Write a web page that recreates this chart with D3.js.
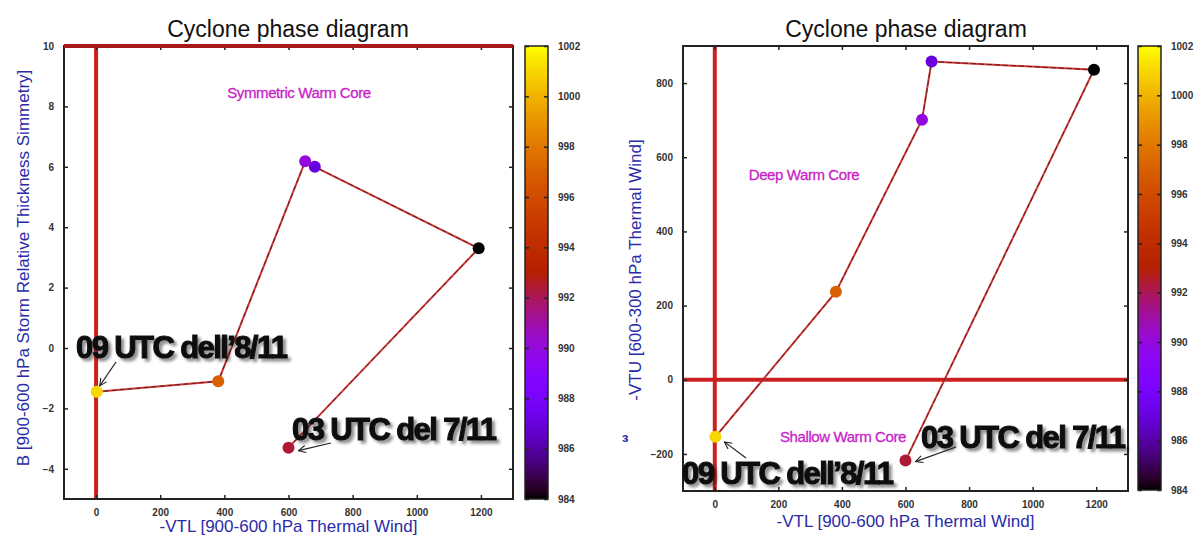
<!DOCTYPE html>
<html>
<head>
<meta charset="utf-8">
<script src="https://cdn.jsdelivr.net/npm/d3@7"></script>
<style>
  html, body { margin: 0; padding: 0; background: #fff; }
  svg { display: block; font-family: "Liberation Sans", Arial, Helvetica, sans-serif; }
</style>
</head>
<body>
<svg id="chart" width="1201" height="540"></svg>
<script>
// Track of the cyclone, in time order (first: 03 UTC 7/11, last: 09 UTC 8/11)
const vtl  = [600, 1193, 682, 652, 381, 2];          // -VTL [900-600 hPa thermal wind]
const bPar = [-3.3, 3.3, 6.0, 6.18, -1.1, -1.45];     // B [900-600 hPa thickness symmetry]
const vtu  = [-218, 836, 858, 701, 237, -154];        // -VTU [600-300 hPa thermal wind]
const mslp = [992.4, 984, 987, 990, 997, 1001];       // minimum sea-level pressure (hPa)

const xTicks  = [0, 200, 400, 600, 800, 1000, 1200];
const bTicks  = [-4, -2, 0, 2, 4, 6, 8, 10];
const vtuTicks = [-200, 0, 200, 400, 600, 800];
const cbTicks = [984, 986, 988, 990, 992, 994, 996, 998, 1000, 1002];

const svg = d3.select("#chart");
const fmt = d3.format("d");

// gnuplot default palette (rgbformulae 7,5,15)
function gnuplotPalette(t) {
  const r = Math.sqrt(t), g = t * t * t, b = Math.max(0, Math.sin(2 * Math.PI * t));
  return d3.rgb(r * 255, g * 255, b * 255).formatHex();
}
const pColor = d3.scaleSequential(gnuplotPalette).domain([984, 1002]);

const defs = svg.append("defs");
const grad = defs.append("linearGradient").attr("id", "cbgrad")
  .attr("x1", 0).attr("y1", 1).attr("x2", 0).attr("y2", 0);
d3.range(0, 1.0001, 0.02).forEach(t => {
  grad.append("stop").attr("offset", t).attr("stop-color", gnuplotPalette(t));
});
const shadow = defs.append("filter").attr("id", "shadow")
  .attr("x", "-10%").attr("y", "-30%").attr("width", "130%").attr("height", "170%");
shadow.append("feGaussianBlur").attr("in", "SourceAlpha").attr("stdDeviation", 1.4).attr("result", "blur");
shadow.append("feOffset").attr("in", "blur").attr("dx", 2.5).attr("dy", 2.5).attr("result", "off");
shadow.append("feComponentTransfer").attr("in", "off").attr("result", "soft")
  .append("feFuncA").attr("type", "linear").attr("slope", 0.45);
const merge = shadow.append("feMerge");
merge.append("feMergeNode").attr("in", "soft");
merge.append("feMergeNode").attr("in", "SourceGraphic");

const arrowHead = defs.append("marker").attr("id", "arrow")
  .attr("viewBox", "0 0 10 10").attr("refX", 9).attr("refY", 5)
  .attr("markerWidth", 9).attr("markerHeight", 9).attr("orient", "auto")
  .attr("markerUnits", "userSpaceOnUse");
arrowHead.append("path").attr("d", "M1,1 L9,5 L1,9").attr("fill", "none")
  .attr("stroke", "#222").attr("stroke-width", 1.2);

function panel(cfg) {
  const g = svg.append("g");
  const x = d3.scaleLinear().domain([-100, 1300]).range([cfg.left, cfg.right]);
  const y = d3.scaleLinear().domain(cfg.yDomain).range([cfg.bottom, cfg.top]);

  // title
  g.append("text").attr("x", cfg.titleX).attr("y", 37).attr("text-anchor", "middle")
    .attr("font-size", 23).attr("fill", "#111").text("Cyclone phase diagram");

  // reference lines
  cfg.refX.forEach(v => g.append("line")
    .attr("x1", x(v)).attr("x2", x(v)).attr("y1", cfg.top).attr("y2", cfg.bottom)
    .attr("stroke", "#cc2020").attr("stroke-width", 4));
  cfg.refY.forEach(v => g.append("line")
    .attr("x1", cfg.left).attr("x2", cfg.right).attr("y1", y(v)).attr("y2", y(v))
    .attr("stroke", "#cc2020").attr("stroke-width", 4));

  // axes with inward ticks, mirrored on top/right
  const tickStyle = sel => {
    sel.select(".domain").remove();
    sel.selectAll(".tick line").attr("stroke", "#222").attr("stroke-width", 1.5);
    sel.selectAll(".tick text").attr("font-size", 10).attr("font-weight", "bold").attr("fill", "#333");
  };
  g.append("g").attr("transform", `translate(0,${cfg.bottom})`)
    .call(d3.axisBottom(x).tickValues(xTicks).tickFormat(fmt).tickSizeInner(-4).tickPadding(10).tickSizeOuter(0))
    .call(tickStyle);
  g.append("g").attr("transform", `translate(0,${cfg.top})`)
    .call(d3.axisTop(x).tickValues(xTicks).tickSizeInner(-4).tickFormat("").tickSizeOuter(0))
    .call(tickStyle);
  g.append("g").attr("transform", `translate(${cfg.left},0)`)
    .call(d3.axisLeft(y).tickValues(cfg.yTicks).tickFormat(fmt).tickSizeInner(-4).tickPadding(10).tickSizeOuter(0))
    .call(tickStyle);
  g.append("g").attr("transform", `translate(${cfg.right},0)`)
    .call(d3.axisRight(y).tickValues(cfg.yTicks).tickSizeInner(-4).tickFormat("").tickSizeOuter(0))
    .call(tickStyle);

  // frame
  g.append("rect").attr("x", cfg.left).attr("y", cfg.top)
    .attr("width", cfg.right - cfg.left).attr("height", cfg.bottom - cfg.top)
    .attr("fill", "none").attr("stroke", "#222").attr("stroke-width", 2);
  if (cfg.topRed) g.append("line").attr("x1", cfg.left).attr("x2", cfg.right)
    .attr("y1", cfg.top).attr("y2", cfg.top).attr("stroke", "#a81818").attr("stroke-width", 4);

  // axis titles
  g.append("text").attr("x", (cfg.left + cfg.right) / 2).attr("y", cfg.xLabelY)
    .attr("text-anchor", "middle").attr("font-size", 17).attr("fill", "#2a2aa8")
    .text("-VTL [900-600 hPa Thermal Wind]");
  g.append("text").attr("transform", `translate(${cfg.yLabelX},${cfg.yLabelCY}) rotate(-90)`)
    .attr("text-anchor", "middle").attr("font-size", 17).attr("fill", "#2a2aa8")
    .text(cfg.yLabel);

  // region labels
  cfg.regions.forEach(r => g.append("text").attr("x", r.x).attr("y", r.y)
    .attr("text-anchor", "middle").attr("font-size", 15).attr("fill", "#c81ec8")
    .attr("stroke", "#c81ec8").attr("stroke-width", 0.3)
    .attr("letter-spacing", -0.4).text(r.text));

  // track
  const pts = vtl.map((v, i) => [x(v), y(cfg.yValues[i])]);
  const line = d3.line();
  g.append("path").attr("d", line(pts)).attr("fill", "none")
    .attr("stroke", "#d03838").attr("stroke-width", 2);
  g.append("path").attr("d", line(pts)).attr("fill", "none")
    .attr("stroke", "#3a1414").attr("stroke-width", 1).attr("stroke-dasharray", "5,3").attr("opacity", 0.75);
  g.selectAll("circle.pt").data(pts).join("circle").attr("class", "pt")
    .attr("cx", d => d[0]).attr("cy", d => d[1]).attr("r", 6)
    .attr("fill", (d, i) => pColor(mslp[i]));

  // annotations
  cfg.notes.forEach(n => {
    const p = pts[n.idx];
    g.append("text").attr("x", n.tx).attr("y", n.ty)
      .attr("font-size", 31).attr("font-weight", "bold").attr("letter-spacing", -1.6)
      .attr("fill", "#111").attr("stroke", "#111").attr("stroke-width", 1.1)
      .attr("filter", "url(#shadow)").text(n.text);
    g.append("line").attr("x1", n.ax).attr("y1", n.ay)
      .attr("x2", p[0] + n.dx).attr("y2", p[1] + n.dy)
      .attr("stroke", "#222").attr("stroke-width", 1.2).attr("marker-end", "url(#arrow)");
  });

  // colour bar
  const cb = d3.scaleLinear().domain([984, 1002]).range([cfg.cbBottom, cfg.top]);
  g.append("rect").attr("x", cfg.cbX).attr("y", cfg.top).attr("width", 23)
    .attr("height", cfg.cbBottom - cfg.top).attr("fill", "url(#cbgrad)")
    .attr("stroke", "#222").attr("stroke-width", 1.5);
  g.append("g").attr("transform", `translate(${cfg.cbX + 23},0)`)
    .call(d3.axisRight(cb).tickValues(cbTicks).tickFormat(fmt).tickSizeInner(-4).tickPadding(10).tickSizeOuter(0))
    .call(tickStyle);
  g.append("g").attr("transform", `translate(${cfg.cbX},0)`)
    .call(d3.axisLeft(cb).tickValues(cbTicks).tickSizeInner(-4).tickFormat("").tickSizeOuter(0))
    .call(tickStyle);
  return g;
}

panel({
  left: 64, right: 513, top: 46, bottom: 499,
  yDomain: [-5, 10], yTicks: bTicks, yValues: bPar,
  refX: [0], refY: [], topRed: true,
  titleX: 288, xLabelY: 532, yLabelX: 29, yLabelCY: 268,
  yLabel: "B [900-600 hPa Storm Relative Thickness Simmetry]",
  regions: [{ x: 299, y: 98, text: "Symmetric Warm Core" }],
  notes: [
    { idx: 5, text: "09 UTC dell\u20198/11", tx: 76, ty: 358, ax: 116, ay: 362, dx: 3, dy: -6 },
    { idx: 0, text: "03 UTC del 7/11", tx: 292, ty: 440, ax: 331, ay: 443, dx: 10, dy: 3 }
  ],
  cbX: 525, cbBottom: 499
});

panel({
  left: 683, right: 1128, top: 46, bottom: 491,
  yDomain: [-300, 900], yTicks: vtuTicks, yValues: vtu,
  refX: [0], refY: [0], topRed: false,
  titleX: 906, xLabelY: 527, yLabelX: 641, yLabelCY: 270,
  yLabel: "-VTU [600-300 hPa Thermal Wind]",
  regions: [{ x: 804, y: 180, text: "Deep Warm Core" }, { x: 843, y: 442, text: "Shallow Warm Core" }],
  notes: [
    { idx: 5, text: "09 UTC dell\u20198/11", tx: 682, ty: 484, ax: 746, ay: 458, dx: 9, dy: 5 },
    { idx: 0, text: "03 UTC del 7/11", tx: 921, ty: 448, ax: 956, ay: 447, dx: 10, dy: 1 }
  ],
  cbX: 1138, cbBottom: 490
});

// small stray mark left of the right panel
svg.append("text").attr("x", 622).attr("y", 442).attr("font-size", 13)
  .attr("font-weight", "bold").attr("fill", "#2a2aa8").text("\u025c");
</script>
</body>
</html>
